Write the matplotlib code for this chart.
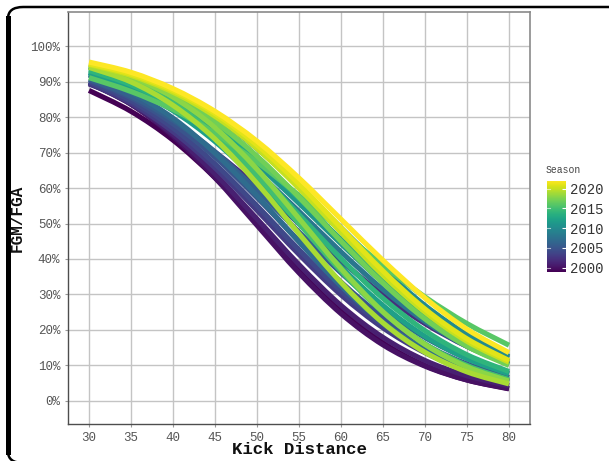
import matplotlib
matplotlib.use("Agg")
import matplotlib.pyplot as plt
import numpy as np
from matplotlib.patches import FancyBboxPatch, PathPatch
from matplotlib.path import Path
from matplotlib.lines import Line2D
from matplotlib.colors import Normalize
from matplotlib import cm

# ---- data ----
distances = [30, 35, 40, 45, 50, 55, 60, 65, 70, 75, 80]
seasons = list(range(1999, 2023))
fg_pct = {
    1999: [87.5, 81.6, 73.5, 62.9, 50.5, 37.3, 25.5, 16.4, 10.0, 5.9, 3.4],
    2000: [89.8, 83.6, 74.6, 62.9, 49.5, 36.1, 24.6, 15.8, 9.8, 5.9, 3.5],
    2001: [89.6, 83.6, 75.1, 64.0, 51.3, 38.4, 26.9, 17.9, 11.4, 7.1, 4.3],
    2002: [89.3, 84.6, 78.2, 70.1, 60.5, 50.0, 39.5, 29.9, 21.8, 15.4, 10.7],
    2003: [89.6, 83.9, 75.9, 65.7, 53.7, 41.3, 29.9, 20.6, 13.6, 8.7, 5.5],
    2004: [90.0, 84.6, 76.9, 66.8, 55.0, 42.6, 31.0, 21.4, 14.2, 9.1, 5.7],
    2005: [90.5, 85.4, 78.1, 68.7, 57.3, 45.1, 33.5, 23.6, 15.9, 10.4, 6.6],
    2006: [90.7, 85.9, 79.1, 70.2, 59.4, 47.6, 36.1, 26.0, 17.9, 12.0, 7.8],
    2007: [91.8, 86.9, 79.7, 69.8, 57.8, 44.8, 32.4, 22.1, 14.4, 9.0, 5.5],
    2008: [92.0, 87.8, 82.0, 74.2, 64.5, 53.4, 42.0, 31.4, 22.4, 15.4, 10.3],
    2009: [92.6, 88.8, 83.5, 76.3, 67.3, 56.7, 45.5, 34.8, 25.4, 17.8, 12.1],
    2010: [94.3, 91.1, 86.4, 79.9, 71.1, 60.5, 48.8, 37.2, 26.9, 18.7, 12.5],
    2011: [92.6, 88.8, 83.3, 75.9, 66.6, 55.7, 44.3, 33.4, 24.1, 16.7, 11.2],
    2012: [92.4, 88.1, 81.8, 73.1, 62.2, 50.0, 37.8, 26.9, 18.2, 11.9, 7.6],
    2013: [93.5, 89.9, 84.7, 77.5, 68.1, 57.1, 45.3, 34.0, 24.2, 16.6, 11.0],
    2014: [93.1, 89.1, 83.2, 75.0, 64.6, 52.5, 40.1, 28.9, 19.8, 13.0, 8.3],
    2015: [94.0, 90.0, 83.9, 75.0, 63.4, 50.0, 36.6, 25.0, 16.1, 10.0, 6.0],
    2016: [91.1, 87.2, 82.1, 75.4, 67.3, 57.9, 48.0, 38.2, 29.3, 21.8, 15.7],
    2017: [94.3, 90.9, 85.8, 78.6, 69.0, 57.4, 45.0, 33.2, 23.1, 15.4, 10.0],
    2018: [94.9, 91.4, 85.6, 77.0, 65.3, 51.4, 37.3, 25.1, 15.9, 9.6, 5.6],
    2019: [94.0, 89.9, 83.3, 73.8, 61.3, 47.1, 33.4, 22.0, 13.7, 8.2, 4.8],
    2020: [94.8, 91.7, 87.0, 80.2, 71.1, 59.9, 47.5, 35.4, 25.0, 16.8, 10.9],
    2021: [95.0, 92.1, 87.5, 81.0, 72.1, 61.1, 48.8, 36.6, 25.9, 17.5, 11.4],
    2022: [95.5, 92.6, 88.0, 81.6, 73.2, 62.8, 51.2, 39.6, 29.0, 20.2, 13.6],
}
x_ticks = [30, 35, 40, 45, 50, 55, 60, 65, 70, 75, 80]
y_ticks = [0, 10, 20, 30, 40, 50, 60, 70, 80, 90, 100]
cbar_ticks = [2000, 2005, 2010, 2015, 2020]

MONO = "Liberation Mono"
W, H = 609, 461
fig = plt.figure(figsize=(W / 100, H / 100), dpi=100)
fig.patch.set_facecolor("white")

def fx(px):
    return px / W

def fy(py):
    return 1 - py / H

ax = fig.add_axes([fx(68), fy(424), fx(530) - fx(68), fy(12) - fy(424)])
ax.set_facecolor("white")

norm = Normalize(vmin=min(seasons), vmax=max(seasons))
cmap = plt.get_cmap("viridis")


def smooth_path(xs, ys):
    """Cubic Bezier path passing through every point (Catmull-Rom style)."""
    pts = np.column_stack([xs, ys]).astype(float)
    n = len(pts)
    verts = [pts[0]]
    codes = [Path.MOVETO]
    for i in range(n - 1):
        p0 = pts[i - 1] if i > 0 else pts[i]
        p1 = pts[i]
        p2 = pts[i + 1]
        p3 = pts[i + 2] if i + 2 < n else pts[i + 1]
        c1 = p1 + (p2 - p0) / 6.0
        c2 = p2 - (p3 - p1) / 6.0
        verts += [c1, c2, p2]
        codes += [Path.CURVE4, Path.CURVE4, Path.CURVE4]
    return Path(verts, codes)


for s in seasons:
    path = smooth_path(distances, np.array(fg_pct[s]) / 100.0)
    patch = PathPatch(path, facecolor="none", edgecolor=cmap(norm(s)),
                      lw=3.7, capstyle="butt", zorder=3)
    ax.add_patch(patch)

ax.set_xlim(27.5, 82.5)
ax.set_ylim(-0.065, 1.096)
ax.set_xticks(x_ticks)
ax.set_xticklabels([str(v) for v in x_ticks])
ax.set_yticks([v / 100 for v in y_ticks])
ax.set_yticklabels([f"{v}%" for v in y_ticks])
ax.grid(True, color="#c4c4c4", lw=1.0, zorder=0)
ax.set_axisbelow(True)
for lab in ax.get_xticklabels() + ax.get_yticklabels():
    lab.set_fontfamily(MONO)
    lab.set_fontsize(9)
    lab.set_color("#555555")
ax.tick_params(axis="both", length=2.5, color="#999999", width=0.8, pad=3)

for side in ["left", "bottom"]:
    ax.spines[side].set_color("#4d4d4d")
    ax.spines[side].set_linewidth(1.0)
for side in ["top", "right"]:
    ax.spines[side].set_color("#8a8a8a")
    ax.spines[side].set_linewidth(1.2)

ax.set_xlabel("Kick Distance", fontfamily=MONO, fontweight="bold",
              fontsize=12.5, color="#111111", labelpad=-1)
ax.set_ylabel("FGM/FGA", fontfamily=MONO, fontweight="bold",
              fontsize=11.5, color="#111111", labelpad=4)

# colorbar legend
cax = fig.add_axes([fx(547), fy(271.7), fx(566) - fx(547), fy(180.7) - fy(271.7)])
sm = cm.ScalarMappable(norm=norm, cmap=cmap)
cb = fig.colorbar(sm, cax=cax, ticks=cbar_ticks)
cb.outline.set_visible(False)
cb.ax.tick_params(length=3, color="white", width=0.8, direction="in", pad=3)
for lab in cb.ax.get_yticklabels():
    lab.set_fontfamily(MONO)
    lab.set_fontsize(10)
    lab.set_color("#333333")
for t in cbar_ticks:
    cax.plot([0, 0.18], [t, t], color="white", lw=0.8, alpha=0.6,
             transform=cax.get_yaxis_transform())
fig.text(fx(546), fy(170), "Season", fontfamily=MONO, fontsize=7,
         color="#444444", ha="left", va="center")

# screenshot-like black rounded frame
frame = FancyBboxPatch((fx(8), fy(463)), fx(700) - fx(8), fy(7) - fy(463),
                       boxstyle="round,pad=0,rounding_size=0.025",
                       transform=fig.transFigure, facecolor="none",
                       edgecolor="black", lw=1.8, zorder=10, clip_on=False)
fig.add_artist(frame)
fig.add_artist(Line2D([fx(7.5), fx(7.5)], [fy(18), fy(452)], color="black",
                      lw=3.6, transform=fig.transFigure, zorder=10))

fig.savefig("out.png", dpi=100)
